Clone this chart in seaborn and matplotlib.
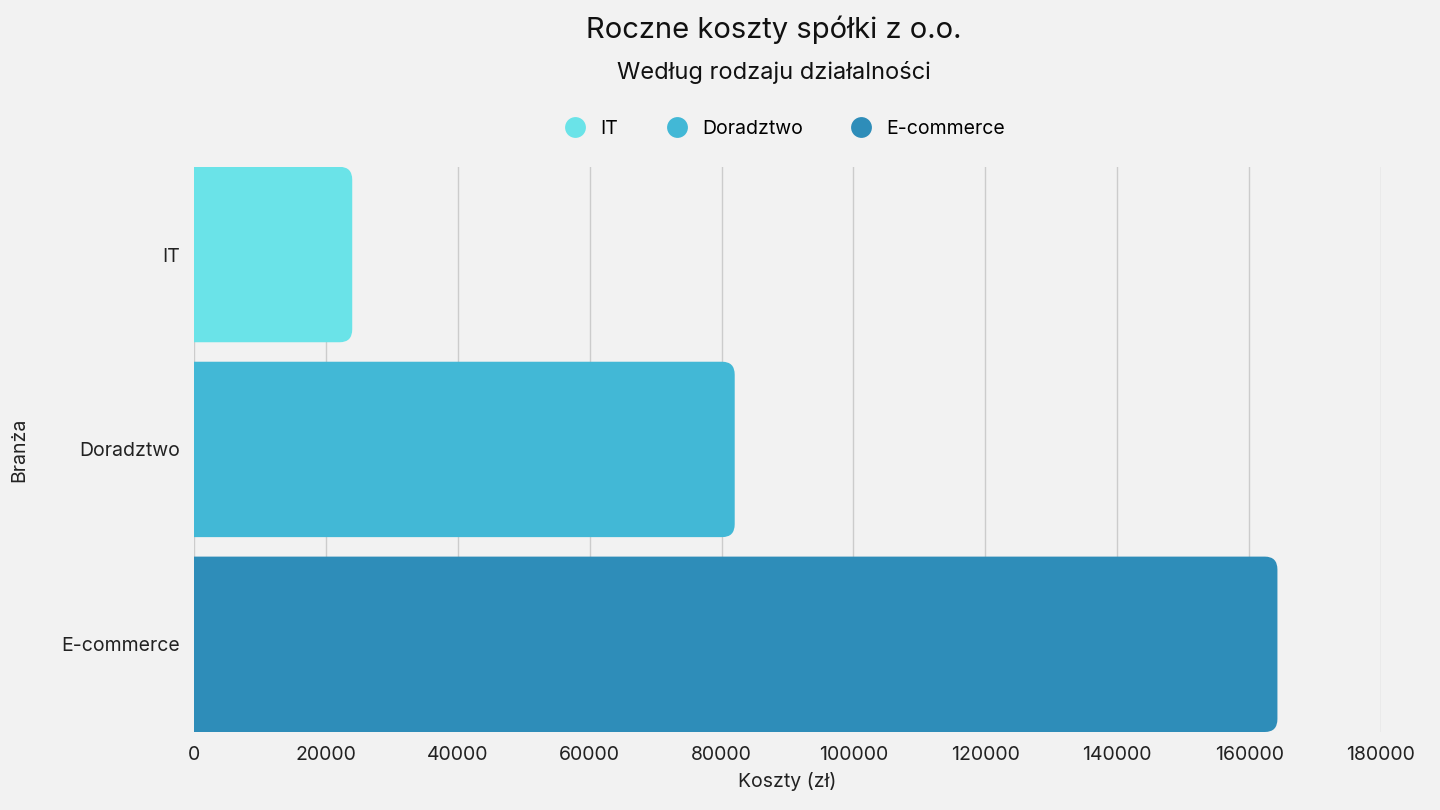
import matplotlib
matplotlib.use("Agg")
import matplotlib.pyplot as plt
from matplotlib.patches import FancyBboxPatch
from matplotlib.lines import Line2D
import seaborn as sns
import pandas as pd

branze = ["IT", "Doradztwo", "E-commerce"]
koszty = [24000, 82000, 164300]
kolory = ["#6ae3e8", "#42b8d6", "#2e8db9"]

df = pd.DataFrame({"Branża": branze, "Koszty": koszty})

plt.rcParams["font.family"] = "Inter"
fig = plt.figure(figsize=(14.4, 8.1), dpi=100, facecolor="#f2f2f2")
ax = fig.add_axes([0.1347, 0.0963, 0.959 - 0.1347, 0.794 - 0.0963])
ax.set_facecolor("#f2f2f2")

sns.barplot(data=df, y="Branża", x="Koszty", hue="Branża", palette=kolory,
            width=0.9, saturation=1, legend=False, ax=ax)

# zaokrąglone końce słupków
r = 1900
for p in list(ax.patches):
    x0, y0, w, h = p.get_x(), p.get_y(), p.get_width(), p.get_height()
    fb = FancyBboxPatch((x0 - 4000, y0), w + 4000, h,
                        boxstyle=f"round,pad=0,rounding_size={r}",
                        mutation_aspect=3.5e-5,
                        facecolor=p.get_facecolor(), edgecolor="none", zorder=3)
    p.remove()
    ax.add_patch(fb)

ax.set_xlim(0, 180000)
ax.set_ylim(2.45, -0.45)
ax.set_xticks(range(0, 180001, 20000))
ax.grid(axis="x", color="#cccccc", linewidth=1)
ax.set_axisbelow(True)
for s in ax.spines.values():
    s.set_visible(False)
ax.tick_params(length=0, labelsize=14, colors="#222222", pad=10)
ax.set_xlabel("Koszty (zł)", fontsize=14, color="#222222", labelpad=6)
ax.set_ylabel("Branża", fontsize=14, color="#222222", labelpad=24)

fig.text(0.5 + 0.0375, 1 - 30 / 810, "Roczne koszty spółki z o.o.", ha="center", va="center",
         fontsize=21, color="#111111")
fig.text(0.5 + 0.0375, 1 - 72 / 810, "Według rodzaju działalności", ha="center", va="center",
         fontsize=17, color="#111111")

handles = [Line2D([], [], marker="o", linestyle="none", markersize=15,
                  markerfacecolor=c, markeredgecolor="none", label=b)
           for b, c in zip(branze, kolory)]
fig.legend(handles=handles, loc="center", bbox_to_anchor=(0.542, 1 - 129 / 810),
           ncol=3, frameon=False, fontsize=14, handletextpad=0.3, columnspacing=2.0)

fig.savefig("out.png", dpi=100, facecolor=fig.get_facecolor())
